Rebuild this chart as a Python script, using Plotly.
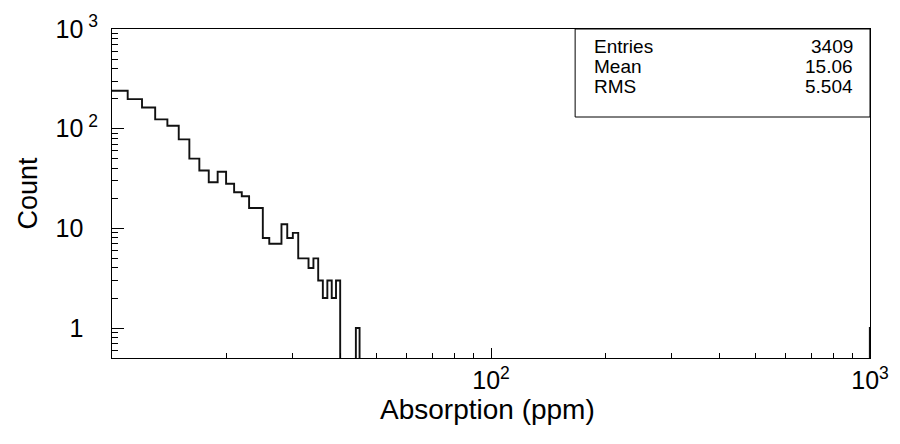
import plotly.graph_objects as go

# ---- data (bins are 1 ppm wide) ----
bin_low = list(range(10, 45)) + [999]
counts = [240, 198, 163, 124, 107, 78, 50, 38, 29, 37,
          28, 23, 21, 16, 16, 8, 7, 7, 11, 8,
          9, 5, 5, 4, 5, 3, 2, 3, 2, 3,
          0, 0, 0, 0, 1, 1]
bin_width = 1

x_major = [100, 1000]
x_major_text = ["10<sup>2</sup>", "10<sup>3</sup>"]
x_minor = [20, 30, 40, 50, 60, 70, 80, 90, 200, 300, 400, 500, 600, 700, 800, 900]
y_major = [1, 10, 100, 1000]
pad = "<sup><span style='color:rgba(0,0,0,0)'> 2</span></sup>"
y_major_text = ["1" + pad, "10" + pad, "10<sup> 2</sup>", "10<sup> 3</sup>"]
y_minor = [0.6, 0.7, 0.8, 0.9, 2, 3, 4, 5, 6, 7, 8, 9,
           20, 30, 40, 50, 60, 70, 80, 90, 200, 300, 400, 500, 600, 700, 800, 900]

stat_labels = ["Entries", "Mean", "RMS"]
stat_values = ["3409", "15.06", "5.504"]

# ---- build ROOT-like step outline (empty bins drop below the axis) ----
floor = 1e-3
xs, ys = [], []
for i, (lo, c) in enumerate(zip(bin_low, counts)):
    xs.append(lo)
    ys.append(c if c > 0 else floor)
    hi = lo + bin_width
    nxt = bin_low[i + 1] if i + 1 < len(bin_low) else None
    if nxt != hi:
        xs.append(hi)
        ys.append(floor)

FONT = "Liberation Sans, Arial, Helvetica, sans-serif"

fig = go.Figure()
fig.add_trace(go.Scatter(x=xs, y=ys, mode="lines", line_shape="hv",
                         line=dict(color="#111111", width=1.9),
                         hoverinfo="skip", showlegend=False))

# page body has an 8px default margin, so the figure is 892x436
fig.update_layout(
    width=892, height=436,
    margin=dict(l=104, r=30, t=21, b=86, autoexpand=False),
    paper_bgcolor="white", plot_bgcolor="white",
    font=dict(family=FONT, color="black"),
    showlegend=False,
)

fig.update_xaxes(
    type="log", range=[1, 3], automargin=False,
    tickmode="array", tickvals=x_major, ticktext=x_major_text,
    ticks="inside", ticklen=10, tickwidth=1, tickcolor="black",
    tickfont=dict(size=25), ticklabelstandoff=0,
    minor=dict(tickmode="array", tickvals=x_minor, ticks="inside",
               ticklen=5, tickwidth=1, tickcolor="black", showgrid=False),
    showgrid=False, zeroline=False,
    showline=True, linecolor="black", linewidth=1, mirror=True,
)
fig.update_yaxes(
    type="log", range=[-0.30103, 3], automargin=False,
    tickmode="array", tickvals=y_major, ticktext=y_major_text,
    ticks="inside", ticklen=12, tickwidth=1, tickcolor="black",
    tickfont=dict(size=25), ticklabelstandoff=8,
    minor=dict(tickmode="array", tickvals=y_minor, ticks="inside",
               ticklen=6, tickwidth=1, tickcolor="black", showgrid=False),
    showgrid=False, zeroline=False,
    showline=True, linecolor="black", linewidth=1, mirror=True,
    title=dict(text="Count", font=dict(size=27), standoff=10),
)

# x-axis title placed as an annotation to sit close to the tick labels
fig.add_annotation(xref="paper", yref="paper", x=0.495, y=-0.158,
                   text="Absorption (ppm)", showarrow=False,
                   xanchor="center", yanchor="middle",
                   font=dict(size=28, family=FONT, color="black"))

# ---- statistics box ----
box_x0, box_y0 = 0.611, 0.7325
fig.add_shape(type="rect", xref="paper", yref="paper",
              x0=box_x0, x1=1.0, y0=box_y0, y1=1.0,
              line=dict(color="black", width=1), fillcolor="white", layer="above")
row_y = [0.948, 0.885, 0.824]
for lab, val, yy in zip(stat_labels, stat_values, row_y):
    fig.add_annotation(xref="paper", yref="paper", x=0.633, y=yy, text=lab,
                       showarrow=False, xanchor="left", yanchor="middle",
                       font=dict(size=19, family=FONT, color="black"))
    fig.add_annotation(xref="paper", yref="paper", x=0.980, y=yy, text=val,
                       showarrow=False, xanchor="right", yanchor="middle",
                       font=dict(size=19, family=FONT, color="black"))

fig.write_html("out.html")
